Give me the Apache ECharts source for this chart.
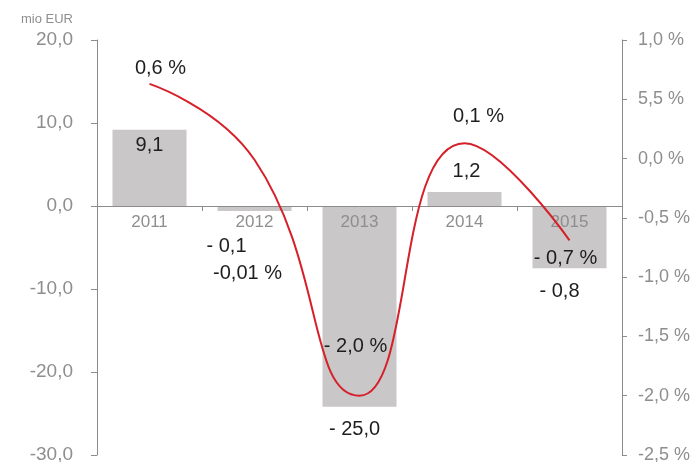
<!DOCTYPE html>
<html>
<head>
<meta charset="utf-8">
<script src="https://cdn.jsdelivr.net/npm/echarts@6/dist/echarts.min.js"></script>
<style>
  html, body { margin: 0; padding: 0; background: #fff; }
  #chartDom { width: 696px; height: 462px; }
</style>
</head>
<body>
<div id="chartDom"></div>
<script>
// data
const years = ['2011', '2012', '2013', '2014', '2015'];
const barValues = [9.2, -0.6, -24.2, 1.7, -7.5];
const barLabels = ['9,1', '- 0,1', '- 25,0', '1,2', '- 0,8'];
const lineValues = [0.63, -0.01, -2.0, 0.13, -0.69];
const lineLabels = ['0,6 %', '-0,01 %', '- 2,0 %', '0,1 %', '- 0,7 %'];
const leftTicks = ['-30,0', '-20,0', '-10,0', '0,0', '10,0', '20,0'];
const rightTicks = ['-2,5 %', '-2,0 %', '-1,5 %', '-1,0 %', '-0,5 %', '0,0 %', '5,5 %', '1,0 %'];

const FONT = 'Liberation Sans';
const axisGrey = '#8c8c8c';
const textGrey = '#8e8e8e';

// label placement per bar / point
const barLabelPos = [
  { position: 'insideTop', distance: 6, offset: [0, 0] },
  { position: 'bottom', distance: 26, offset: [-28, 0] },
  { position: 'bottom', distance: 13, offset: [-5, 0] },
  { position: 'top', distance: 10, offset: [2, 0] },
  { position: 'bottom', distance: 13, offset: [-10, 0] }
];
const lineLabelOffset = [[11, -15], [-7, 114], [-4, -49], [14, -27], [-4, 18]];

const chart = echarts.init(document.getElementById('chartDom'));

const option = {
  animation: false,
  textStyle: { fontFamily: FONT },
  grid: { left: 97, right: 74, top: 40, bottom: 7, outerBoundsMode: 'none' },
  xAxis: {
    type: 'category',
    data: years,
    z: 3,
    // zero of the left axis sits 249px above the grid bottom
    offset: -249,
    axisLine: { onZero: false, lineStyle: { color: axisGrey, width: 1 } },
    axisTick: { show: true, length: 5, lineStyle: { color: axisGrey } },
    axisLabel: { color: textGrey, fontSize: 17, margin: 8, fontFamily: FONT }
  },
  yAxis: [
    {
      type: 'value',
      min: -30,
      max: 20,
      interval: 10,
      name: 'mio EUR',
      nameLocation: 'end',
      nameGap: 14,
      nameTextStyle: { color: textGrey, fontSize: 13, align: 'right', padding: [0, 24, 0, 0], fontFamily: FONT },
      splitLine: { show: false },
      axisLine: { show: true, lineStyle: { color: axisGrey } },
      axisTick: { show: true, length: 6, lineStyle: { color: axisGrey } },
      axisLabel: {
        color: textGrey, fontSize: 19, margin: 24, fontFamily: FONT,
        formatter: (v) => leftTicks[Math.round((v + 30) / 10)]
      }
    },
    {
      type: 'value',
      min: -2.5,
      max: 1.0,
      interval: 0.5,
      position: 'right',
      splitLine: { show: false },
      axisLine: { show: true, lineStyle: { color: axisGrey } },
      axisTick: { show: true, length: 5, lineStyle: { color: axisGrey } },
      axisLabel: {
        color: textGrey, fontSize: 18, margin: 16, fontFamily: FONT,
        formatter: (v) => rightTicks[Math.round((v + 2.5) / 0.5)]
      }
    }
  ],
  series: [
    {
      type: 'bar',
      yAxisIndex: 0,
      barWidth: 74,
      z: 2,
      itemStyle: { color: '#c9c7c8' },
      data: barValues.map((v, i) => ({
        value: v,
        label: {
          show: true,
          position: barLabelPos[i].position,
          distance: barLabelPos[i].distance,
          offset: barLabelPos[i].offset,
          formatter: barLabels[i],
          color: '#1e1e1e',
          fontSize: 20,
          fontFamily: FONT
        }
      }))
    },
    {
      type: 'line',
      yAxisIndex: 1,
      smooth: 0.5,
      z: 5,
      symbol: 'circle',
      symbolSize: 0,
      showSymbol: true,
      lineStyle: { color: '#d6202a', width: 2 },
      itemStyle: { color: '#d6202a' },
      data: lineValues.map((v, i) => ({
        value: v,
        label: {
          show: true,
          position: 'inside',
          offset: lineLabelOffset[i],
          formatter: lineLabels[i],
          color: '#1e1e1e',
          fontSize: 20,
          fontFamily: FONT
        }
      }))
    }
  ]
};

chart.setOption(option);
</script>
</body>
</html>
